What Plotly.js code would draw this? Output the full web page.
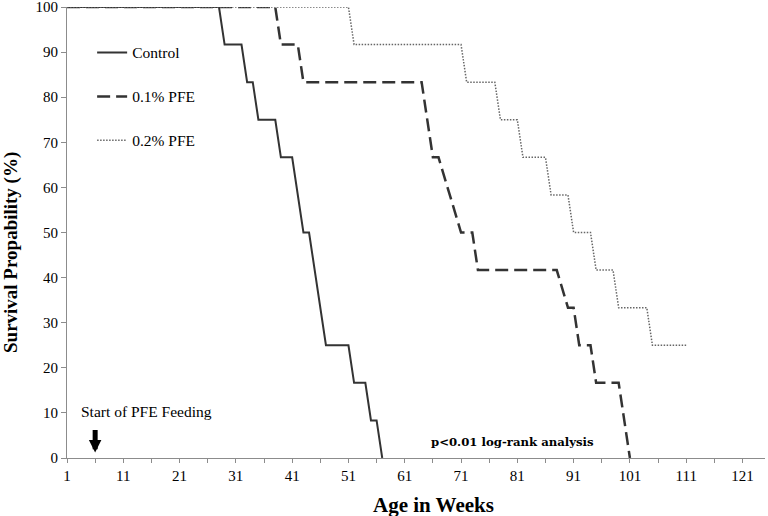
<!DOCTYPE html>
<html>
<head>
<meta charset="utf-8">
<script src="https://cdn.plot.ly/plotly-3.0.1.min.js"></script>
<style>html,body{margin:0;padding:0;background:#fff;}#chart{width:768px;height:516px;}</style>
</head>
<body>
<div id="chart"></div>
<script>
// Data (age in weeks, survival %)
const controlWeeks = [1, 28, 29, 32, 33, 34, 35, 38, 39, 41, 43, 44, 47, 51, 52, 54, 55, 56, 57];
const controlSurv  = [100, 100, 91.67, 91.67, 83.33, 83.33, 75, 75, 66.67, 66.67, 50, 50, 25, 25, 16.67, 16.67, 8.33, 8.33, 0];

const pfe01Weeks = [1, 38, 39, 42, 43, 64, 66, 67, 71, 73, 74, 88, 90, 91, 92, 94, 95, 99, 101];
const pfe01Surv  = [100, 100, 91.67, 91.67, 83.33, 83.33, 66.67, 66.67, 50, 50, 41.67, 41.67, 33.33, 33.33, 25, 25, 16.67, 16.67, 0];

const pfe02Weeks = [1, 51, 52, 71, 72, 77, 78, 81, 82, 86, 87, 90, 91, 94, 95, 98, 99, 104, 105, 111];
const pfe02Surv  = [100, 100, 91.67, 91.67, 83.33, 83.33, 75, 75, 66.67, 66.67, 58.33, 58.33, 50, 50, 41.67, 41.67, 33.33, 33.33, 25, 25];

const seriesNames = ["Control", "0.1% PFE", "0.2% PFE"];
const xTickVals = [1, 11, 21, 31, 41, 51, 61, 71, 81, 91, 101, 111, 121];
const yTickVals = [0, 10, 20, 30, 40, 50, 60, 70, 80, 90, 100];
const feedingStartWeek = 6;

const serif = "'Liberation Serif', 'Times New Roman', serif";

const traces = [
  {x: controlWeeks, y: controlSurv, name: seriesNames[0], legendgroup: 'a', mode: 'lines',
   line: {color: '#333333', width: 2}, cliponaxis: false},
  {x: pfe01Weeks, y: pfe01Surv, name: seriesNames[1], legendgroup: 'b', mode: 'lines',
   line: {color: '#333333', width: 2.5, dash: '13px,6px'}, cliponaxis: false},
  {x: pfe02Weeks, y: pfe02Surv, name: seriesNames[2], legendgroup: 'c', mode: 'lines',
   line: {color: '#666666', width: 1.5, dash: '1.5px,1.5px'}, cliponaxis: false}
];

const layout = {
  width: 768, height: 516,
  margin: {l: 67, r: 3, t: 7, b: 58},
  paper_bgcolor: '#ffffff', plot_bgcolor: '#ffffff',
  font: {family: serif, size: 15, color: '#000'},
  showlegend: true,
  legend: {x: 0.036, y: 0.936, xanchor: 'left', yanchor: 'top', bgcolor: 'rgba(0,0,0,0)',
           font: {family: serif, size: 15.5, color: '#000'}, traceorder: 'grouped', tracegroupgap: 20.8},
  xaxis: {
    range: [1, 125], showgrid: false, zeroline: false,
    showline: true, linecolor: '#8c8c8c', linewidth: 1,
    tickmode: 'array', tickvals: xTickVals, ticks: 'outside', ticklen: 4, tickcolor: '#8c8c8c',
    minor: {dtick: 5, tick0: 1, ticks: 'outside', ticklen: 4, tickcolor: '#8c8c8c'},
    tickfont: {family: serif, size: 15, color: '#000'}
  },
  yaxis: {
    range: [0, 100], showgrid: false, zeroline: false,
    showline: true, linecolor: '#8c8c8c', linewidth: 1, ticklabeloverflow: 'allow',
    tickmode: 'array', tickvals: yTickVals, ticks: 'outside', ticklen: 5, tickcolor: '#8c8c8c',
    tickfont: {family: serif, size: 15, color: '#000'}
  },
  annotations: [
    {text: '<b>Age in Weeks</b>', xref: 'paper', yref: 'paper', x: (434 - 67) / 698, y: -(505 - 458) / 451,
     xanchor: 'center', yanchor: 'middle', showarrow: false, font: {family: serif, size: 21, color: '#000'}},
    {text: '<b>Survival Propability (%)</b>', xref: 'paper', yref: 'paper', x: -(67 - 11) / 698, y: (458 - 253) / 451,
     xanchor: 'center', yanchor: 'middle', showarrow: false, textangle: -90, font: {family: serif, size: 19, color: '#000'}},
    {text: 'Start of PFE Feeding', xref: 'paper', yref: 'paper', x: (146 - 67) / 698, y: (458 - 411.7) / 451,
     xanchor: 'center', yanchor: 'middle', showarrow: false, font: {family: serif, size: 15.5, color: '#000'}},
    {text: '', xref: 'x', yref: 'y', x: feedingStartWeek, y: 1.2, showarrow: true, arrowhead: 2,
     arrowsize: 0.5, arrowwidth: 5, arrowcolor: '#000', ax: 0, ay: -24},
    {text: '<b>p&lt;0.01 log-rank analysis</b>', xref: 'paper', yref: 'paper', x: (512.5 - 67) / 698, y: (458 - 441.7) / 451,
     xanchor: 'center', yanchor: 'middle', showarrow: false, font: {family: "'DejaVu Serif', serif", size: 11.7, color: '#000'}}
  ]
};

Plotly.newPlot('chart', traces, layout, {displayModeBar: false, staticPlot: true});
</script>
</body>
</html>
